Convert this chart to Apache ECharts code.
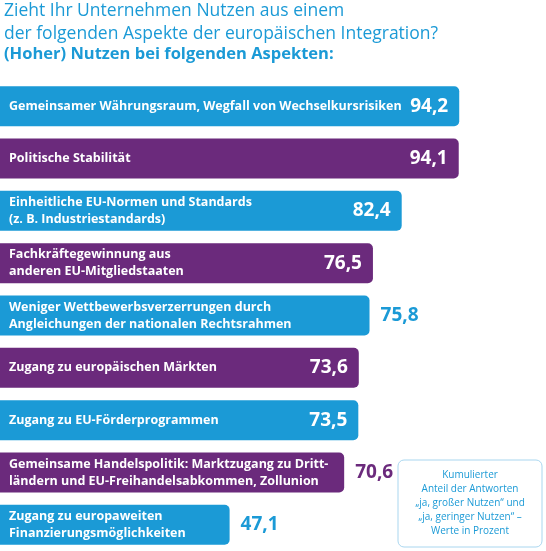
<!DOCTYPE html><html><head><meta charset="utf-8">
<script src="https://cdn.jsdelivr.net/npm/echarts@6/dist/echarts.min.js"></script>
<style>html,body{margin:0;padding:0;background:#fff}#c{width:546px;height:551px}</style></head><body><div id="c"></div>
<script>
const categories = [
 "Gemeinsamer Währungsraum, Wegfall von Wechselkursrisiken",
 "Politische Stabilität",
 "Einheitliche EU-Normen und Standards\n(z. B. Industriestandards)",
 "Fachkräftegewinnung aus\nanderen EU-Mitgliedstaaten",
 "Weniger Wettbewerbsverzerrungen durch\nAngleichungen der nationalen Rechtsrahmen",
 "Zugang zu europäischen Märkten",
 "Zugang zu EU-Förderprogrammen",
 "Gemeinsame Handelspolitik: Marktzugang zu Dritt-\nländern und EU-Freihandelsabkommen, Zollunion",
 "Zugang zu europaweiten\nFinanzierungsmöglichkeiten"
];
const values = [94.2, 94.1, 82.4, 76.5, 75.8, 73.6, 73.5, 70.6, 47.1];
const outsideValue = [false,false,false,false,true,false,false,true,true];
const BLUE='#1b9ad6', PURPLE='#6b2a7c';
const col = i => i%2===0?BLUE:PURPLE;
const fmt = v => v.toFixed(1).replace('.', ',');
const chart = echarts.init(document.getElementById('c'));
chart.setOption({
 animation:false,
 grid:{left:0,right:0,top:80,bottom:0},
 xAxis:{type:'value',min:0,max:112,show:false},
 yAxis:{type:'category',inverse:true,data:categories,show:false},
 graphic:[
  {type:'text',left:4,top:0,style:{text:'Zieht Ihr Unternehmen Nutzen aus einem\nder folgenden Aspekte der europäischen Integration?',fill:BLUE,font:'17.5px "Open Sans", sans-serif',lineHeight:23}},
  {type:'text',left:4,top:46,style:{text:'(Hoher) Nutzen bei folgenden Aspekten:',fill:BLUE,font:'bold 16.5px "Open Sans", sans-serif'}},
  {type:'rect',shape:{x:398,y:460,width:144,height:87,r:6},style:{fill:'#fff',stroke:'#a9d6ef',lineWidth:1},z:10},
  {type:'text',z:11,style:{x:470,y:468,text:'Kumulierter\nAnteil der Antworten\n„ja, großer Nutzen“ und\n„ja, geringer Nutzen“ –\nWerte in Prozent',align:'center',fill:BLUE,font:'10px "Open Sans", sans-serif',lineHeight:14}}
 ],
 series:[
  {type:'bar',barWidth:40,z:2,
   data:values.map((v,i)=>({value:v,itemStyle:{color:col(i),borderRadius:[0,5,5,0]}})),
   label:{show:true,position:'insideLeft',offset:[4,0],formatter:p=>categories[p.dataIndex],color:'#fff',fontSize:12.5,fontWeight:'bold',lineHeight:17,fontFamily:'"Open Sans", sans-serif'}},
  {type:'bar',barWidth:40,barGap:'-100%',z:3,
   data:values.map((v,i)=>({value:v,itemStyle:{color:'rgba(0,0,0,0)'},
     label:outsideValue[i]?{position:'right',color:col(i),offset:[6,0]}:{position:'insideRight',color:'#fff',offset:[-6,0]}})),
   label:{show:true,formatter:p=>fmt(p.value),fontSize:19,fontWeight:'bold',fontFamily:'"Open Sans", sans-serif'}}
 ]
});
</script></body></html>
